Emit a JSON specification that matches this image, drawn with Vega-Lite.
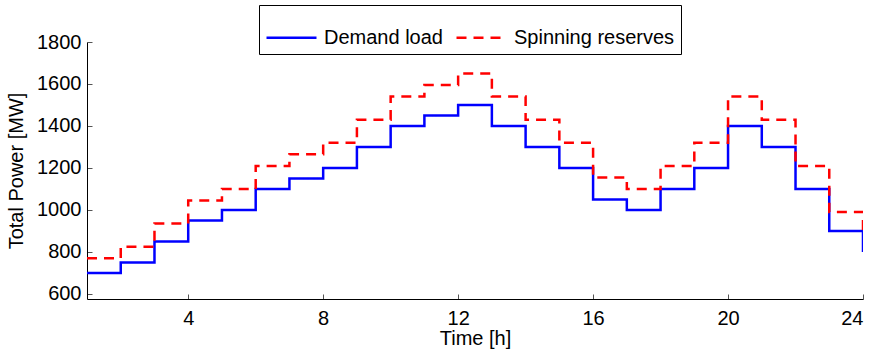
{
  "$schema": "https://vega.github.io/schema/vega-lite/v6.json",
  "width": 776,
  "height": 257,
  "autosize": {"type": "none"},
  "padding": {"left": 87, "top": 42, "right": 12, "bottom": 56},
  "background": "white",
  "config": {
    "font": "Liberation Sans",
    "view": {"stroke": null},
    "axis": {"grid": false, "domainColor": "black", "tickColor": "#555", "labelColor": "black", "titleColor": "black", "labelFont": "Liberation Sans", "titleFont": "Liberation Sans", "labelFontSize": 20, "titleFontSize": 20, "titleFontWeight": "normal", "tickSize": -5, "domainWidth": 1, "format": "d"}
  },
  "data": {"values": [
    {"hour": 1, "power": 700, "series": "Demand load"},
    {"hour": 2, "power": 750, "series": "Demand load"},
    {"hour": 3, "power": 850, "series": "Demand load"},
    {"hour": 4, "power": 950, "series": "Demand load"},
    {"hour": 5, "power": 1000, "series": "Demand load"},
    {"hour": 6, "power": 1100, "series": "Demand load"},
    {"hour": 7, "power": 1150, "series": "Demand load"},
    {"hour": 8, "power": 1200, "series": "Demand load"},
    {"hour": 9, "power": 1300, "series": "Demand load"},
    {"hour": 10, "power": 1400, "series": "Demand load"},
    {"hour": 11, "power": 1450, "series": "Demand load"},
    {"hour": 12, "power": 1500, "series": "Demand load"},
    {"hour": 13, "power": 1400, "series": "Demand load"},
    {"hour": 14, "power": 1300, "series": "Demand load"},
    {"hour": 15, "power": 1200, "series": "Demand load"},
    {"hour": 16, "power": 1050, "series": "Demand load"},
    {"hour": 17, "power": 1000, "series": "Demand load"},
    {"hour": 18, "power": 1100, "series": "Demand load"},
    {"hour": 19, "power": 1200, "series": "Demand load"},
    {"hour": 20, "power": 1400, "series": "Demand load"},
    {"hour": 21, "power": 1300, "series": "Demand load"},
    {"hour": 22, "power": 1100, "series": "Demand load"},
    {"hour": 23, "power": 900, "series": "Demand load"},
    {"hour": 24, "power": 800, "series": "Demand load"},
    {"hour": 1, "power": 770, "series": "Spinning reserves"},
    {"hour": 2, "power": 825, "series": "Spinning reserves"},
    {"hour": 3, "power": 935, "series": "Spinning reserves"},
    {"hour": 4, "power": 1045, "series": "Spinning reserves"},
    {"hour": 5, "power": 1100, "series": "Spinning reserves"},
    {"hour": 6, "power": 1210, "series": "Spinning reserves"},
    {"hour": 7, "power": 1265, "series": "Spinning reserves"},
    {"hour": 8, "power": 1320, "series": "Spinning reserves"},
    {"hour": 9, "power": 1430, "series": "Spinning reserves"},
    {"hour": 10, "power": 1540, "series": "Spinning reserves"},
    {"hour": 11, "power": 1595, "series": "Spinning reserves"},
    {"hour": 12, "power": 1650, "series": "Spinning reserves"},
    {"hour": 13, "power": 1540, "series": "Spinning reserves"},
    {"hour": 14, "power": 1430, "series": "Spinning reserves"},
    {"hour": 15, "power": 1320, "series": "Spinning reserves"},
    {"hour": 16, "power": 1155, "series": "Spinning reserves"},
    {"hour": 17, "power": 1100, "series": "Spinning reserves"},
    {"hour": 18, "power": 1210, "series": "Spinning reserves"},
    {"hour": 19, "power": 1320, "series": "Spinning reserves"},
    {"hour": 20, "power": 1540, "series": "Spinning reserves"},
    {"hour": 21, "power": 1430, "series": "Spinning reserves"},
    {"hour": 22, "power": 1210, "series": "Spinning reserves"},
    {"hour": 23, "power": 990, "series": "Spinning reserves"},
    {"hour": 24, "power": 880, "series": "Spinning reserves"}
  ]},
  "mark": {"type": "line", "interpolate": "step-after", "strokeWidth": 2.5, "clip": true},
  "encoding": {
    "x": {"field": "hour", "type": "quantitative", "title": "Time [h]", "scale": {"domain": [1, 24], "nice": false, "zero": false}, "axis": {"values": [4, 8, 12, 16, 20, 24], "labelPadding": 14, "titlePadding": 0}},
    "y": {"field": "power", "type": "quantitative", "title": "Total Power [MW]", "scale": {"domain": [576, 1800], "nice": false, "zero": false}, "axis": {"values": [600, 800, 1000, 1200, 1400, 1600, 1800], "labelPadding": 11, "titlePadding": 10}},
    "color": {"field": "series", "type": "nominal", "scale": {"domain": ["Demand load", "Spinning reserves"], "range": ["#0000ff", "#ff0000"]},
      "legend": {"title": null, "orient": "none", "legendX": 172, "legendY": -37, "direction": "horizontal", "symbolType": "stroke", "symbolSize": 2500, "symbolStrokeWidth": 2.5, "labelFontSize": 20, "labelFont": "Liberation Sans", "labelColor": "black", "labelLimit": 400, "strokeColor": "black", "fillColor": "white", "padding": 6, "columnPadding": 8, "labelOffset": 6, "symbolOffset": 0}},
    "strokeDash": {"field": "series", "type": "nominal", "scale": {"domain": ["Demand load", "Spinning reserves"], "range": [[1, 0], [10, 7]]}}
  }
}
